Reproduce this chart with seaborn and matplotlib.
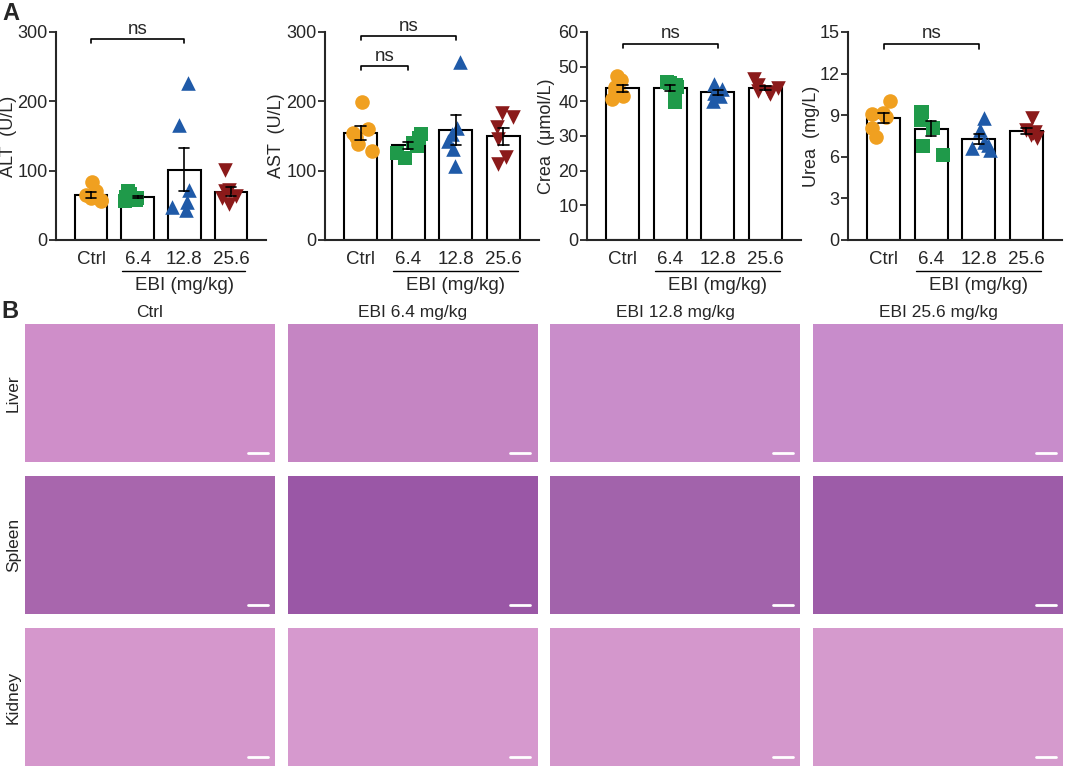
import numpy as np
import pandas as pd
import seaborn as sns
import matplotlib.pyplot as plt

# groups and colours
groups = ["Ctrl", "6.4", "12.8", "25.6"]
markers = ["o", "s", "^", "v"]
colors = ["#F0A020", "#1F9A4A", "#1F5AA8", "#8B1A1A"]

# serum values (6 mice per group)
alt_vals = [[84, 70, 65, 60, 56, 58],
            [70, 66, 62, 58, 56, 60],
            [226, 166, 72, 55, 48, 43],
            [101, 72, 70, 63, 52, 60]]
ast_vals = [[199, 160, 148, 155, 138, 128],
            [153, 140, 147, 136, 118, 125],
            [257, 162, 153, 143, 131, 107],
            [163, 145, 183, 178, 120, 110]]
crea_vals = [[47.2, 46.2, 44.0, 43.0, 41.6, 40.7],
             [45.4, 45.5, 44.8, 44.0, 43.0, 39.9],
             [45.0, 43.5, 42.5, 41.5, 40.2, 42.6],
             [46.5, 44.8, 43.8, 43.0, 42.0, 42.8]]
urea_vals = [[10.05, 9.15, 8.85, 9.1, 8.05, 7.45],
             [9.25, 9.25, 8.66, 8.06, 6.75, 6.1],
             [8.78, 7.95, 7.1, 6.6, 6.5, 6.85],
             [8.78, 7.95, 7.8, 7.7, 7.6, 7.35]]

ylabels = ["ALT  (U/L)", "AST  (U/L)", "Crea  (μmol/L)", "Urea  (mg/L)"]
yticks = [[0, 100, 200, 300], [0, 100, 200, 300],
          [0, 10, 20, 30, 40, 50, 60], [0, 3, 6, 9, 12, 15]]
# brackets: (from, to, level, drop)
brackets = [[(0, 2, 290, 6)],
            [(0, 2, 294, 6), (0, 1, 251, 6)],
            [(0, 2, 56.6, 1.3)],
            [(0, 2, 14.15, 0.35)]]

# histology panel labels
col_titles = ["Ctrl", "EBI 6.4 mg/kg", "EBI 12.8 mg/kg", "EBI 25.6 mg/kg"]
row_titles = ["Liver", "Spleen", "Kidney"]
tissue_colors = [["#cf8ec9", "#c585c3", "#c98dca", "#c88ccb"],
                 ["#a866ad", "#9a57a6", "#a263ab", "#9d5ca8"],
                 ["#d597cc", "#d699ce", "#d497cc", "#d59acd"]]

sns.set_theme(style="ticks")
plt.rcParams['font.family'] = ['Liberation Sans', 'DejaVu Sans']

W, H = 1065, 769
fig = plt.figure(figsize=(W / 100, H / 100), dpi=100)


def px_axes(left, top, width, height):
    return fig.add_axes([left / W, 1 - (top + height) / H, width / W, height / H])


np.random.seed(3)
lefts = [56, 325, 587, 848]
widths = [210, 214, 214, 214]
label_x = [-0.185, -0.187, -0.15, -0.13]
all_vals = [alt_vals, ast_vals, crea_vals, urea_vals]
for k in range(4):
    ax = px_axes(lefts[k], 32, widths[k], 208)
    df = pd.DataFrame({"group": np.repeat(groups, 6),
                       "value": np.concatenate(all_vals[k])})
    sns.barplot(data=df, x="group", y="value", order=groups, errorbar="se",
                capsize=0.22, color="white", edgecolor="black", linewidth=1.5,
                width=0.7, saturation=1,
                err_kws={"color": "black", "linewidth": 1.2}, ax=ax)
    for line in ax.lines:
        line.set_zorder(6)
    for g, m, c in zip(groups, markers, colors):
        sub = df[df.group == g]
        sns.stripplot(data=sub, x="group", y="value", order=groups, marker=m,
                      color=c, size=10.5, jitter=0.28, linewidth=0, zorder=4, ax=ax)
    ax.set_xlim(-0.75, 3.75)
    ax.set_ylim(0, yticks[k][-1])
    ax.set_yticks(yticks[k])
    ax.set_xlabel("")
    ax.set_ylabel(ylabels[k], fontsize=13)
    ax.yaxis.set_label_coords(label_x[k], 0.5)
    ax.tick_params(axis="y", labelsize=13, length=5, width=1.3, pad=1)
    ax.tick_params(axis="x", labelsize=13.5, length=0, pad=8)
    for s in ["left", "bottom"]:
        ax.spines[s].set_linewidth(1.5)
    sns.despine(ax=ax)
    # significance brackets
    for x0, x1, lev, drop in brackets[k]:
        ax.plot([x0, x0, x1, x1], [lev - drop, lev, lev, lev - drop],
                color="black", lw=1.2, clip_on=False)
        ax.text((x0 + x1) / 2, lev + drop * 0.3, "ns", ha="center", va="bottom",
                fontsize=13.5)
    # EBI dose line
    tr = ax.get_xaxis_transform()
    ax.plot([0.67, 3.31], [-0.15, -0.15], color="black", lw=1.0,
            transform=tr, clip_on=False)
    ax.text(2, -0.22, "EBI (mg/kg)", ha="center", va="center", fontsize=13.5,
            transform=tr)

fig.text(11 / W, 1 - 13 / H, "A", fontsize=17, fontweight="bold",
         ha="center", va="center")
fig.text(10 / W, 1 - 311 / H, "B", fontsize=17, fontweight="bold",
         ha="center", va="center")

# histology panels
col_lefts = [25, 288, 550, 813]
row_tops = [324, 476, 628]
for r in range(3):
    for c in range(4):
        ax = px_axes(col_lefts[c], row_tops[r], 250, 138)
        ax.set_facecolor(tissue_colors[r][c])
        ax.set_xticks([])
        ax.set_yticks([])
        for s in ax.spines.values():
            s.set_visible(False)
        ax.set_xlim(0, 1)
        ax.set_ylim(0, 1)
        ax.plot([0.89, 0.97], [0.065, 0.065], color="white", lw=2)
        if r == 0:
            ax.set_title(col_titles[c], fontsize=12.5, pad=5)
        if c == 0:
            ax.set_ylabel(row_titles[r], fontsize=12.5, labelpad=3)

fig.savefig("out.png", dpi=100)
